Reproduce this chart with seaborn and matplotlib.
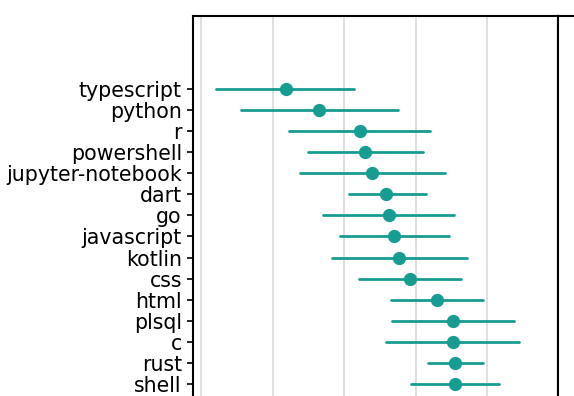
import pandas as pd
import matplotlib
matplotlib.use("Agg")
import matplotlib.pyplot as plt
import seaborn as sns

# =========================
# Data
# =========================
languages = ['typescript', 'python', 'r', 'powershell', 'jupyter-notebook',
             'dart', 'go', 'javascript', 'kotlin', 'css', 'html', 'plsql',
             'c', 'rust', 'shell']
estimate = [1.18, 1.65, 2.22, 2.29, 2.39, 2.59, 2.62, 2.70, 2.77, 2.92,
            3.30, 3.52, 3.52, 3.55, 3.55]
ci_low = [0.21, 0.56, 1.23, 1.49, 1.38, 2.06, 1.70, 1.94, 1.83, 2.21,
          2.66, 2.67, 2.59, 3.17, 2.94]
ci_high = [2.14, 2.75, 3.20, 3.10, 3.41, 3.14, 3.53, 3.46, 3.72, 3.64,
           3.94, 4.37, 4.45, 3.94, 4.16]

# long table: one row per value, median = estimate, min/max = interval
rows = []
for lang, m, lo, hi in zip(languages, estimate, ci_low, ci_high):
    for v in (lo, m, hi):
        rows.append({'language': lang, 'value': v})
df = pd.DataFrame(rows)

# =========================
# Plot
# =========================
sns.set_style("white")
teal = "#179c91"

fig = plt.figure(figsize=(5.74, 3.96), dpi=100)
ax = fig.add_axes([193 / 574, -0.1, (558 - 193) / 574, 1.0596])

sns.pointplot(data=df, x='value', y='language', order=languages,
              estimator='median', errorbar=lambda v: (v.min(), v.max()),
              color=teal, linestyle='none', markersize=7.5, err_kws={'linewidth': 2.0},
              ax=ax)

ax.set_xlim(-0.116, 4.99)
ax.set_ylim(16.45, -3.46)
ax.set_xticks([0, 1, 2, 3, 4])
ax.xaxis.grid(True, color='#dddddd', linewidth=1.3)
ax.set_axisbelow(True)
ax.set_xlabel('')
ax.set_ylabel('')
ax.tick_params(axis='y', labelsize=14.8, length=4, width=1.2, color='black',
               labelcolor='black', left=True, pad=4)
ax.tick_params(axis='x', labelbottom=False, bottom=False)
for side in ['left', 'top', 'right', 'bottom']:
    ax.spines[side].set_color('black')
    ax.spines[side].set_linewidth(1.5)

# neighbouring panel edge on the right
ax2 = fig.add_axes([558 / 574, -0.1, 0.2, 1.0596])
ax2.set_xticks([])
ax2.set_yticks([])
for side in ['right', 'bottom']:
    ax2.spines[side].set_visible(False)
for side in ['left', 'top']:
    ax2.spines[side].set_color('black')
    ax2.spines[side].set_linewidth(1.5)

plt.savefig("out.png", dpi=100)
